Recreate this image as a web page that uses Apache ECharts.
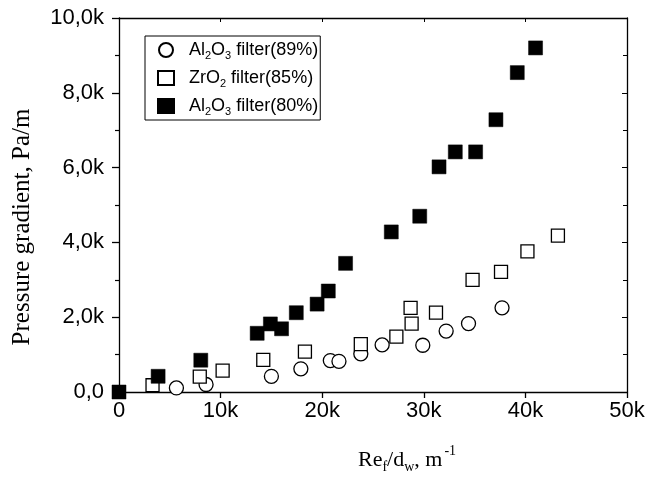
<!DOCTYPE html>
<html>
<head>
<meta charset="utf-8">
<script src="https://cdn.jsdelivr.net/npm/echarts@6/dist/echarts.min.js"></script>
<style>
  html, body { margin: 0; padding: 0; background: #fff; }
  #chart { width: 648px; height: 479px; }
</style>
</head>
<body>
<div id="chart"></div>
<script>
// Re_f/d_w in 1/m, pressure gradient in Pa/m (values in k)
const al89X = [5.65, 8.57, 15.0, 17.9, 20.8, 21.65, 23.8, 25.9, 29.9, 32.2, 34.4, 37.7];
const al89Y = [0.11, 0.20, 0.42, 0.62, 0.84, 0.82, 1.02, 1.26, 1.25, 1.63, 1.83, 2.25];

const zr85X = [3.3, 7.95, 10.2, 14.2, 18.3, 23.8, 27.3, 28.8, 28.7, 31.2, 34.8, 37.6, 40.2, 43.2];
const zr85Y = [0.18, 0.41, 0.57, 0.86, 1.08, 1.28, 1.48, 1.83, 2.25, 2.12, 3.0, 3.21, 3.76, 4.18];

const al80X = [0, 3.85, 8.05, 13.6, 14.9, 16.0, 17.45, 19.5, 20.6, 22.3, 26.8, 29.6, 31.5, 33.1, 35.1, 37.1, 39.2, 41.0];
const al80Y = [0, 0.42, 0.85, 1.57, 1.82, 1.69, 2.12, 2.35, 2.7, 3.44, 4.28, 4.70, 6.02, 6.42, 6.42, 7.28, 8.54, 9.2];

const seriesNames = ["Al2O3 filter(89%)", "ZrO2 filter(85%)", "Al2O3 filter(80%)"];
const legendRich = {
  "Al2O3 filter(89%)": "{g|}{t|Al}{s|2}{t|O}{s|3}{t| filter(89%)}",
  "ZrO2 filter(85%)": "{g|}{t|ZrO}{s|2}{t| filter(85%)}",
  "Al2O3 filter(80%)": "{g|}{t|Al}{s|2}{t|O}{s|3}{t| filter(80%)}"
};

const toPairs = (xs, ys) => xs.map((x, i) => [x * 1000, ys[i] * 1000]);

const chart = echarts.init(document.getElementById("chart"));

const sans = "Liberation Sans, Arial, sans-serif";
const serif = "Liberation Serif, Times New Roman, serif";

const option = {
  backgroundColor: "#fff",
  animation: false,
  grid: { left: 119, right: 21, top: 18, bottom: 83, containLabel: false },
  legend: {
    orient: "vertical",
    left: 145,
    top: 36,
    data: seriesNames,
    formatter: (name) => legendRich[name],
    borderColor: "#000",
    borderWidth: 1,
    padding: [5, 2, 3, 12],
    itemWidth: 16,
    itemHeight: 14,
    itemGap: 8,
    textStyle: {
      rich: {
        g: { width: 10 },
        t: { fontFamily: sans, fontSize: 18, color: "#000" },
        s: { fontFamily: sans, fontSize: 11, color: "#000", padding: [11, 0, 0, 0] }
      }
    }
  },
  xAxis: [
    {
      type: "value",
      min: 0,
      max: 50000,
      interval: 10000,
      name: "{t|Re}{s|f}{t|/d}{s|w}{t|, m}{p|-1}",
      nameLocation: "middle",
      nameGap: 52,
      nameTextStyle: {
        padding: [0, 0, 0, 68],
        rich: {
          t: { fontFamily: serif, fontSize: 22, color: "#000" },
          s: { fontFamily: serif, fontSize: 14, color: "#000", padding: [14, 0, 0, 0] },
          p: { fontFamily: serif, fontSize: 14, color: "#000", padding: [0, 0, 18, 2] }
        }
      },
      axisLine: { show: true, onZero: false, lineStyle: { color: "#000", width: 1.3 } },
      axisTick: { show: true, inside: false, length: 6, lineStyle: { color: "#000", width: 1.3 } },
      minorTick: { show: false },
      splitLine: { show: false },
      axisLabel: {
        color: "#000",
        fontFamily: sans,
        fontSize: 22,
        margin: 8,
        formatter: (v) => (v === 0 ? "0" : v / 1000 + "k")
      }
    },
    {
      type: "value",
      position: "top",
      min: 0,
      max: 50000,
      interval: 10000,
      axisLine: { show: true, onZero: false, lineStyle: { color: "#000", width: 1.3 } },
      axisTick: { show: true, inside: true, length: 4, lineStyle: { color: "#000" } },
      axisLabel: { show: false },
      splitLine: { show: false }
    }
  ],
  yAxis: [
    {
      type: "value",
      min: 0,
      max: 10000,
      interval: 2000,
      name: "Pressure gradient, Pa/m",
      nameLocation: "middle",
      nameGap: 84,
      nameTextStyle: {
        fontFamily: serif,
        fontSize: 25,
        color: "#000",
        padding: [0, 0, 0, -44]
      },
      axisLine: { show: true, onZero: false, lineStyle: { color: "#000", width: 1.3 } },
      axisTick: { show: true, inside: false, length: 7, lineStyle: { color: "#000", width: 1.3 } },
      minorTick: { show: true, splitNumber: 2, length: 4, lineStyle: { color: "#000", width: 1.2 } },
      splitLine: { show: false },
      axisLabel: {
        color: "#000",
        fontFamily: sans,
        fontSize: 22,
        margin: 15,
        formatter: (v) => (v === 0 ? "0,0" : (v / 1000).toFixed(1).replace(".", ",") + "k")
      }
    },
    {
      type: "value",
      position: "right",
      min: 0,
      max: 10000,
      interval: 2000,
      axisLine: { show: true, onZero: false, lineStyle: { color: "#000", width: 1.3 } },
      axisTick: { show: true, inside: true, length: 5, lineStyle: { color: "#000" } },
      minorTick: { show: true, splitNumber: 2, length: 4, lineStyle: { color: "#000" } },
      axisLabel: { show: false },
      splitLine: { show: false }
    }
  ],
  series: [
    {
      name: seriesNames[0],
      type: "scatter",
      symbol: "circle",
      symbolSize: 14,
      itemStyle: { color: "#fff", borderColor: "#000", borderWidth: 1.3, opacity: 1 },
      data: toPairs(al89X, al89Y),
      z: 2
    },
    {
      name: seriesNames[1],
      type: "scatter",
      symbol: "rect",
      symbolSize: 13,
      itemStyle: { color: "#fff", borderColor: "#000", borderWidth: 1.3, opacity: 1 },
      data: toPairs(zr85X, zr85Y),
      z: 3
    },
    {
      name: seriesNames[2],
      type: "scatter",
      symbol: "rect",
      symbolSize: 14,
      itemStyle: { color: "#000", borderColor: "#000", borderWidth: 0.5, opacity: 1 },
      data: toPairs(al80X, al80Y),
      z: 4
    }
  ]
};

chart.setOption(option);
</script>
</body>
</html>
